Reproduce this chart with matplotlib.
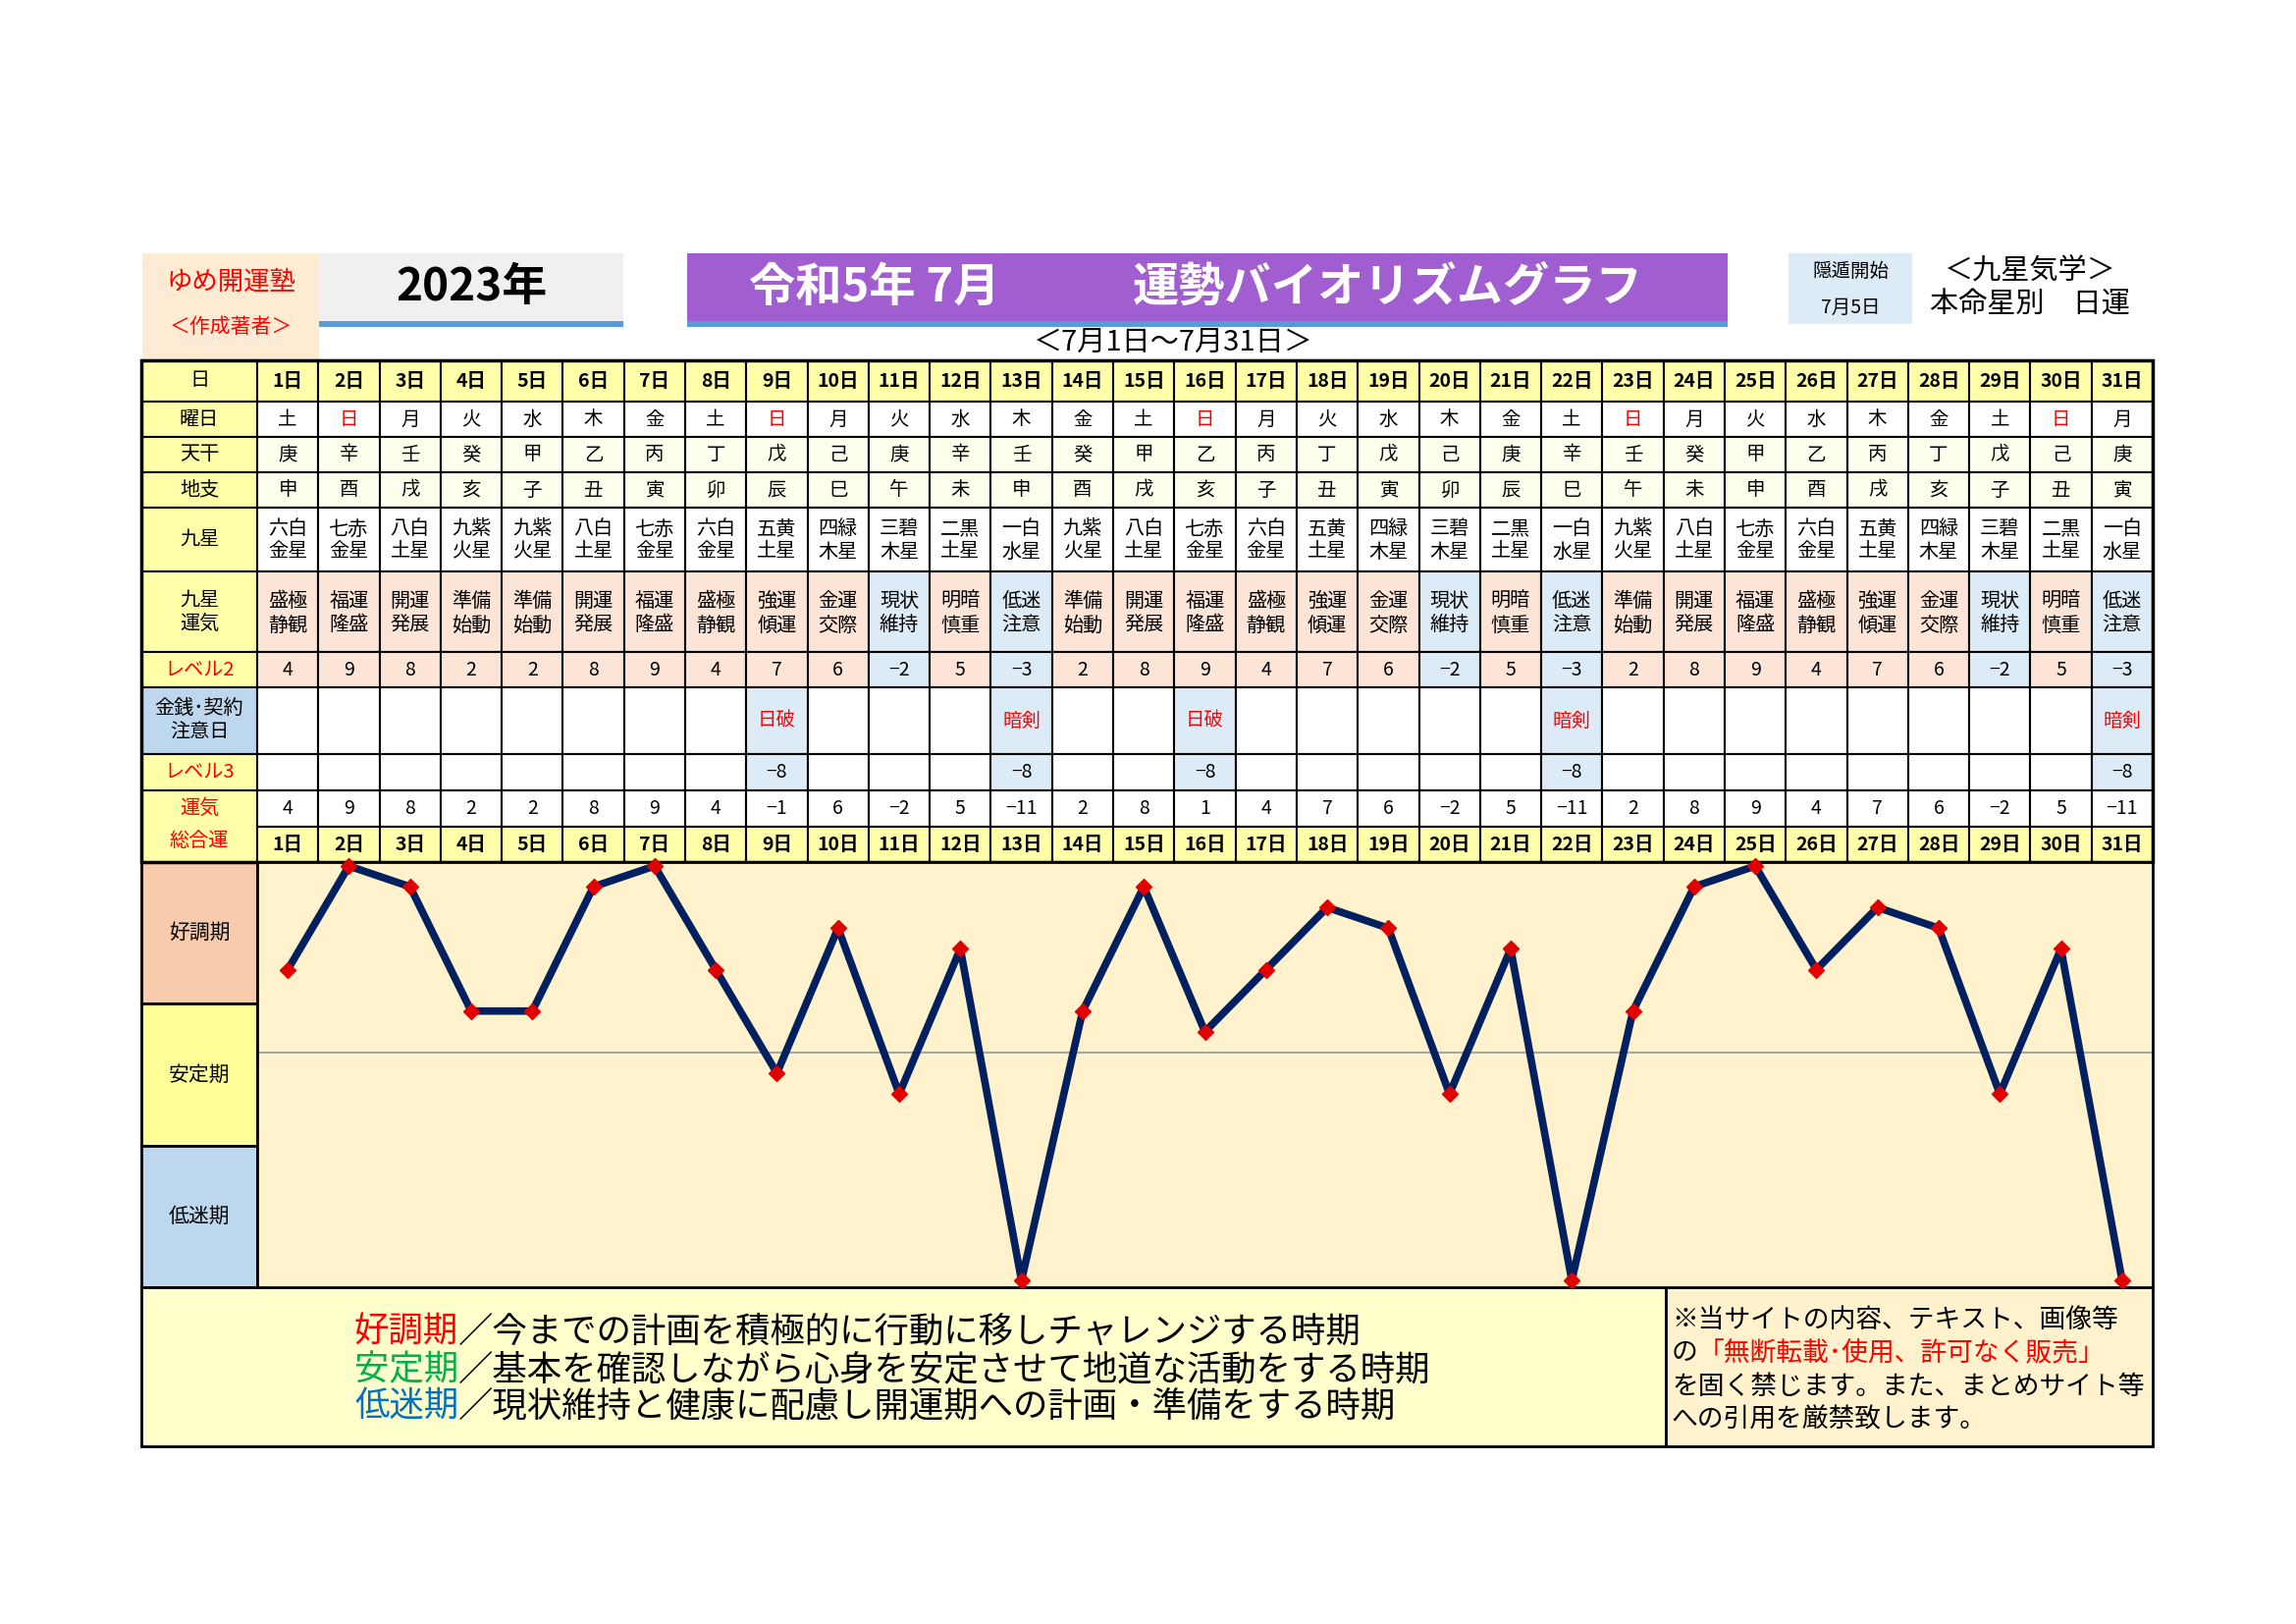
import matplotlib
matplotlib.use("Agg")
import matplotlib.pyplot as plt
from matplotlib.patches import Rectangle

plt.rcParams['font.family'] = ['Noto Sans CJK JP', 'DejaVu Sans']

# ---- data ----
days = list(range(1, 32))
weekdays = list("土日月火水木金土日月火水木金土日月火水木金土日月火水木金土日月")
stems = list("庚辛壬癸甲乙丙丁戊己庚辛壬癸甲乙丙丁戊己庚辛壬癸甲乙丙丁戊己庚")
branches = list("申酉戌亥子丑寅卯辰巳午未申酉戌亥子丑寅卯辰巳午未申酉戌亥子丑寅")
stars = ["六白金星", "七赤金星", "八白土星", "九紫火星", "九紫火星", "八白土星", "七赤金星",
         "六白金星", "五黄土星", "四緑木星", "三碧木星", "二黒土星", "一白水星", "九紫火星",
         "八白土星", "七赤金星", "六白金星", "五黄土星", "四緑木星", "三碧木星", "二黒土星",
         "一白水星", "九紫火星", "八白土星", "七赤金星", "六白金星", "五黄土星", "四緑木星",
         "三碧木星", "二黒土星", "一白水星"]
fortunes = ["盛極静観", "福運隆盛", "開運発展", "準備始動", "準備始動", "開運発展", "福運隆盛",
            "盛極静観", "強運傾運", "金運交際", "現状維持", "明暗慎重", "低迷注意", "準備始動",
            "開運発展", "福運隆盛", "盛極静観", "強運傾運", "金運交際", "現状維持", "明暗慎重",
            "低迷注意", "準備始動", "開運発展", "福運隆盛", "盛極静観", "強運傾運", "金運交際",
            "現状維持", "明暗慎重", "低迷注意"]
level2 = [4, 9, 8, 2, 2, 8, 9, 4, 7, 6, -2, 5, -3, 2, 8, 9, 4, 7, 6, -2, 5, -3,
          2, 8, 9, 4, 7, 6, -2, 5, -3]
caution = {9: "日破", 13: "暗剣", 16: "日破", 22: "暗剣", 31: "暗剣"}
level3 = {9: -8, 13: -8, 16: -8, 22: -8, 31: -8}
total = [4, 9, 8, 2, 2, 8, 9, 4, -1, 6, -2, 5, -11, 2, 8, 1, 4, 7, 6, -2, 5, -11,
         2, 8, 9, 4, 7, 6, -2, 5, -11]

legend_lines = [("好調期", "#FF0000", "／今までの計画を積極的に行動に移しチャレンジする時期"),
                ("安定期", "#00B050", "／基本を確認しながら心身を安定させて地道な活動をする時期"),
                ("低迷期", "#0070C0", "／現状維持と健康に配慮し開運期への計画・準備をする時期")]

W, H = 2339, 1654
fig = plt.figure(figsize=(W / 100, H / 100), dpi=100)
ax = fig.add_axes([0, 0, 1, 1])
ax.set_xlim(0, W)
ax.set_ylim(H, 0)
ax.axis('off')
renderer = fig.canvas.get_renderer()

YEL = '#FFFFAA'
PALE = '#FFFFEE'
PEACH = '#FCE4D6'
LBLUE = '#DDEBF7'


def box(x0, y0, x1, y1, fc, ec='black', lw=1.5, z=1):
    ax.add_patch(Rectangle((x0, y0), x1 - x0, y1 - y0, facecolor=fc,
                           edgecolor=ec, lw=lw, zorder=z))


def txt(x, y, s, size=14, color='black', weight='normal', ha='center'):
    return ax.text(x, y, s, fontsize=size, color=color, fontweight=weight,
                   ha=ha, va='center', zorder=5)


def txt_after(t, y, s, size, color):
    # place a second text right after text t (same row)
    bb = t.get_window_extent(renderer=renderer)
    x = ax.transData.inverted().transform((bb.x1, 0))[0]
    return txt(x, y, s, size, color, ha='left')


def num(v):
    return str(v).replace('-', '−')


# ---- header area ----
box(145, 258, 325, 366, '#FDEBD3', ec='none')
txt(235, 287, "ゆめ開運塾", 19, '#FF0000')
txt(235, 333, "＜作成著者＞", 15, '#FF0000')

box(325, 258, 635, 327, '#F0F0F0', ec='none')
box(325, 327, 635, 333, '#5B9BD5', ec='none')
txt(480, 293, "2023年", 33, 'black', 'bold')

box(700, 258, 1760, 327, '#A05ED0', ec='none')
box(700, 327, 1760, 333, '#5B9BD5', ec='none')
txt(891, 293, "令和5年 7月", 34, 'white', 'bold')
txt(1414, 293, "運勢バイオリズムグラフ", 34, 'white', 'bold')

txt(1195, 349, "＜7月1日～7月31日＞", 21)

box(1822, 258, 1948, 330, LBLUE, ec='none')
txt(1885, 276, "隠遁開始", 14)
txt(1885, 313, "7月5日", 14)

txt(2068, 277, "＜九星気学＞", 21)
txt(2068, 311, "本命星別　日運", 21)

# ---- table ----
X0, X1, X2 = 144, 262, 2193
cw = (X2 - X1) / len(days)
rows = [367, 409, 445, 481, 517, 582, 664, 700, 768, 805, 842, 878]


def cx(i):
    return X1 + cw * (i + 0.5)


def row_cells(r, colors):
    y0, y1 = rows[r], rows[r + 1]
    for i, c in enumerate(colors):
        box(X1 + cw * i, y0, X1 + cw * (i + 1), y1, c)


labels = ["日", "曜日", "天干", "地支", "九星", "九星\n運気", "レベル2",
          "金銭･契約\n注意日", "レベル3"]
for r, lab in enumerate(labels):
    fc = '#BDD7EE' if r == 7 else YEL
    box(X0, rows[r], X1, rows[r + 1], fc)
    color = '#FF0000' if lab.startswith("レベル") else 'black'
    txt((X0 + X1) / 2, (rows[r] + rows[r + 1]) / 2, lab, 14.5, color)
box(X0, rows[9], X1, rows[11], YEL)
txt((X0 + X1) / 2, 823, "運気", 14.5, '#FF0000')
txt((X0 + X1) / 2, 856, "総合運", 14.5, '#FF0000')

n = len(days)
row_cells(0, [YEL] * n)
row_cells(1, ['white'] * n)
row_cells(2, [PALE] * n)
row_cells(3, [PALE] * n)
row_cells(4, ['white'] * n)
tone = [PEACH if v > 0 else LBLUE for v in level2]
row_cells(5, tone)
row_cells(6, tone)
row_cells(7, [LBLUE if d in caution else 'white' for d in days])
row_cells(8, [LBLUE if d in level3 else 'white' for d in days])
row_cells(9, ['white'] * n)
row_cells(10, [YEL] * n)

for i, d in enumerate(days):
    x = cx(i)
    txt(x, (rows[0] + rows[1]) / 2, f"{d}日", 14, weight='bold')
    txt(x, (rows[1] + rows[2]) / 2, weekdays[i], 14,
        '#FF0000' if weekdays[i] == "日" else 'black')
    txt(x, (rows[2] + rows[3]) / 2, stems[i], 14)
    txt(x, (rows[3] + rows[4]) / 2, branches[i], 14)
    txt(x, 539, stars[i][:2], 14.5)
    txt(x, 562, stars[i][2:], 14.5)
    txt(x, 612, fortunes[i][:2], 14.5)
    txt(x, 637, fortunes[i][2:], 14.5)
    txt(x, (rows[6] + rows[7]) / 2, num(level2[i]), 14)
    if d in caution:
        txt(x, (rows[7] + rows[8]) / 2, caution[d], 14, '#FF0000')
    if d in level3:
        txt(x, (rows[8] + rows[9]) / 2, num(level3[d]), 14)
    txt(x, (rows[9] + rows[10]) / 2, num(total[i]), 14)
    txt(x, (rows[10] + rows[11]) / 2, f"{d}日", 14, weight='bold')

# outer frame of table
box(X0, rows[0], X2, rows[-1], 'none', lw=2.5, z=3)

# ---- chart ----
CY0, CY1 = 878, 1311
zones = [("好調期", '#F8CBAD'), ("安定期", '#FFFF99'), ("低迷期", '#BDD7EE')]
zh = (CY1 - CY0) / 3
for k, (name, fc) in enumerate(zones):
    box(X0, CY0 + k * zh, X1, CY0 + (k + 1) * zh, fc, lw=2)
    txt((X0 + X1) / 2, CY0 + (k + 0.5) * zh, name, 15)

cax = fig.add_axes([X1 / W, 1 - CY1 / H, (X2 - X1) / W, (CY1 - CY0) / H])
cax.set_facecolor('#FFF2CC')
cax.set_xlim(0.5, len(days) + 0.5)
cax.set_ylim(-11.33, 9.19)
cax.set_xticks([])
cax.set_yticks([])
for s in cax.spines.values():
    s.set_linewidth(2)
    s.set_color('black')
cax.axhline(0, color='#A6A6A6', lw=1.5, zorder=1)
cax.plot(days, total, color='#002060', lw=5.5, zorder=3, clip_on=False,
         solid_joinstyle='round')
cax.plot(days, total, linestyle='none', marker='D', ms=8, color='#E00000',
         zorder=4, clip_on=False)

# ---- bottom notes ----
BY0, BY1, BX = 1311, 1473, 1697
box(X0, BY0, BX, BY1, '#FFFFCC', lw=2)
box(BX, BY0, X2, BY1, '#FFF2CC', lw=2)

fs = 25.5
for k, (head, col, rest) in enumerate(legend_lines):
    y = 1357 + k * 38
    t = txt(361, y, head, fs, col, ha='left')
    txt_after(t, y, rest, fs, 'black')

fs2 = 19.3
txt(1703, 1344, "※当サイトの内容、テキスト、画像等", fs2, ha='left')
t = txt(1703, 1378, "の", fs2, ha='left')
txt_after(t, 1378, "「無断転載･使用、許可なく販売」", fs2, '#FF0000')
txt(1703, 1412, "を固く禁じます。また、まとめサイト等", fs2, ha='left')
txt(1703, 1446, "への引用を厳禁致します。", fs2, ha='left')

fig.savefig("out.png", dpi=100, facecolor='white')
